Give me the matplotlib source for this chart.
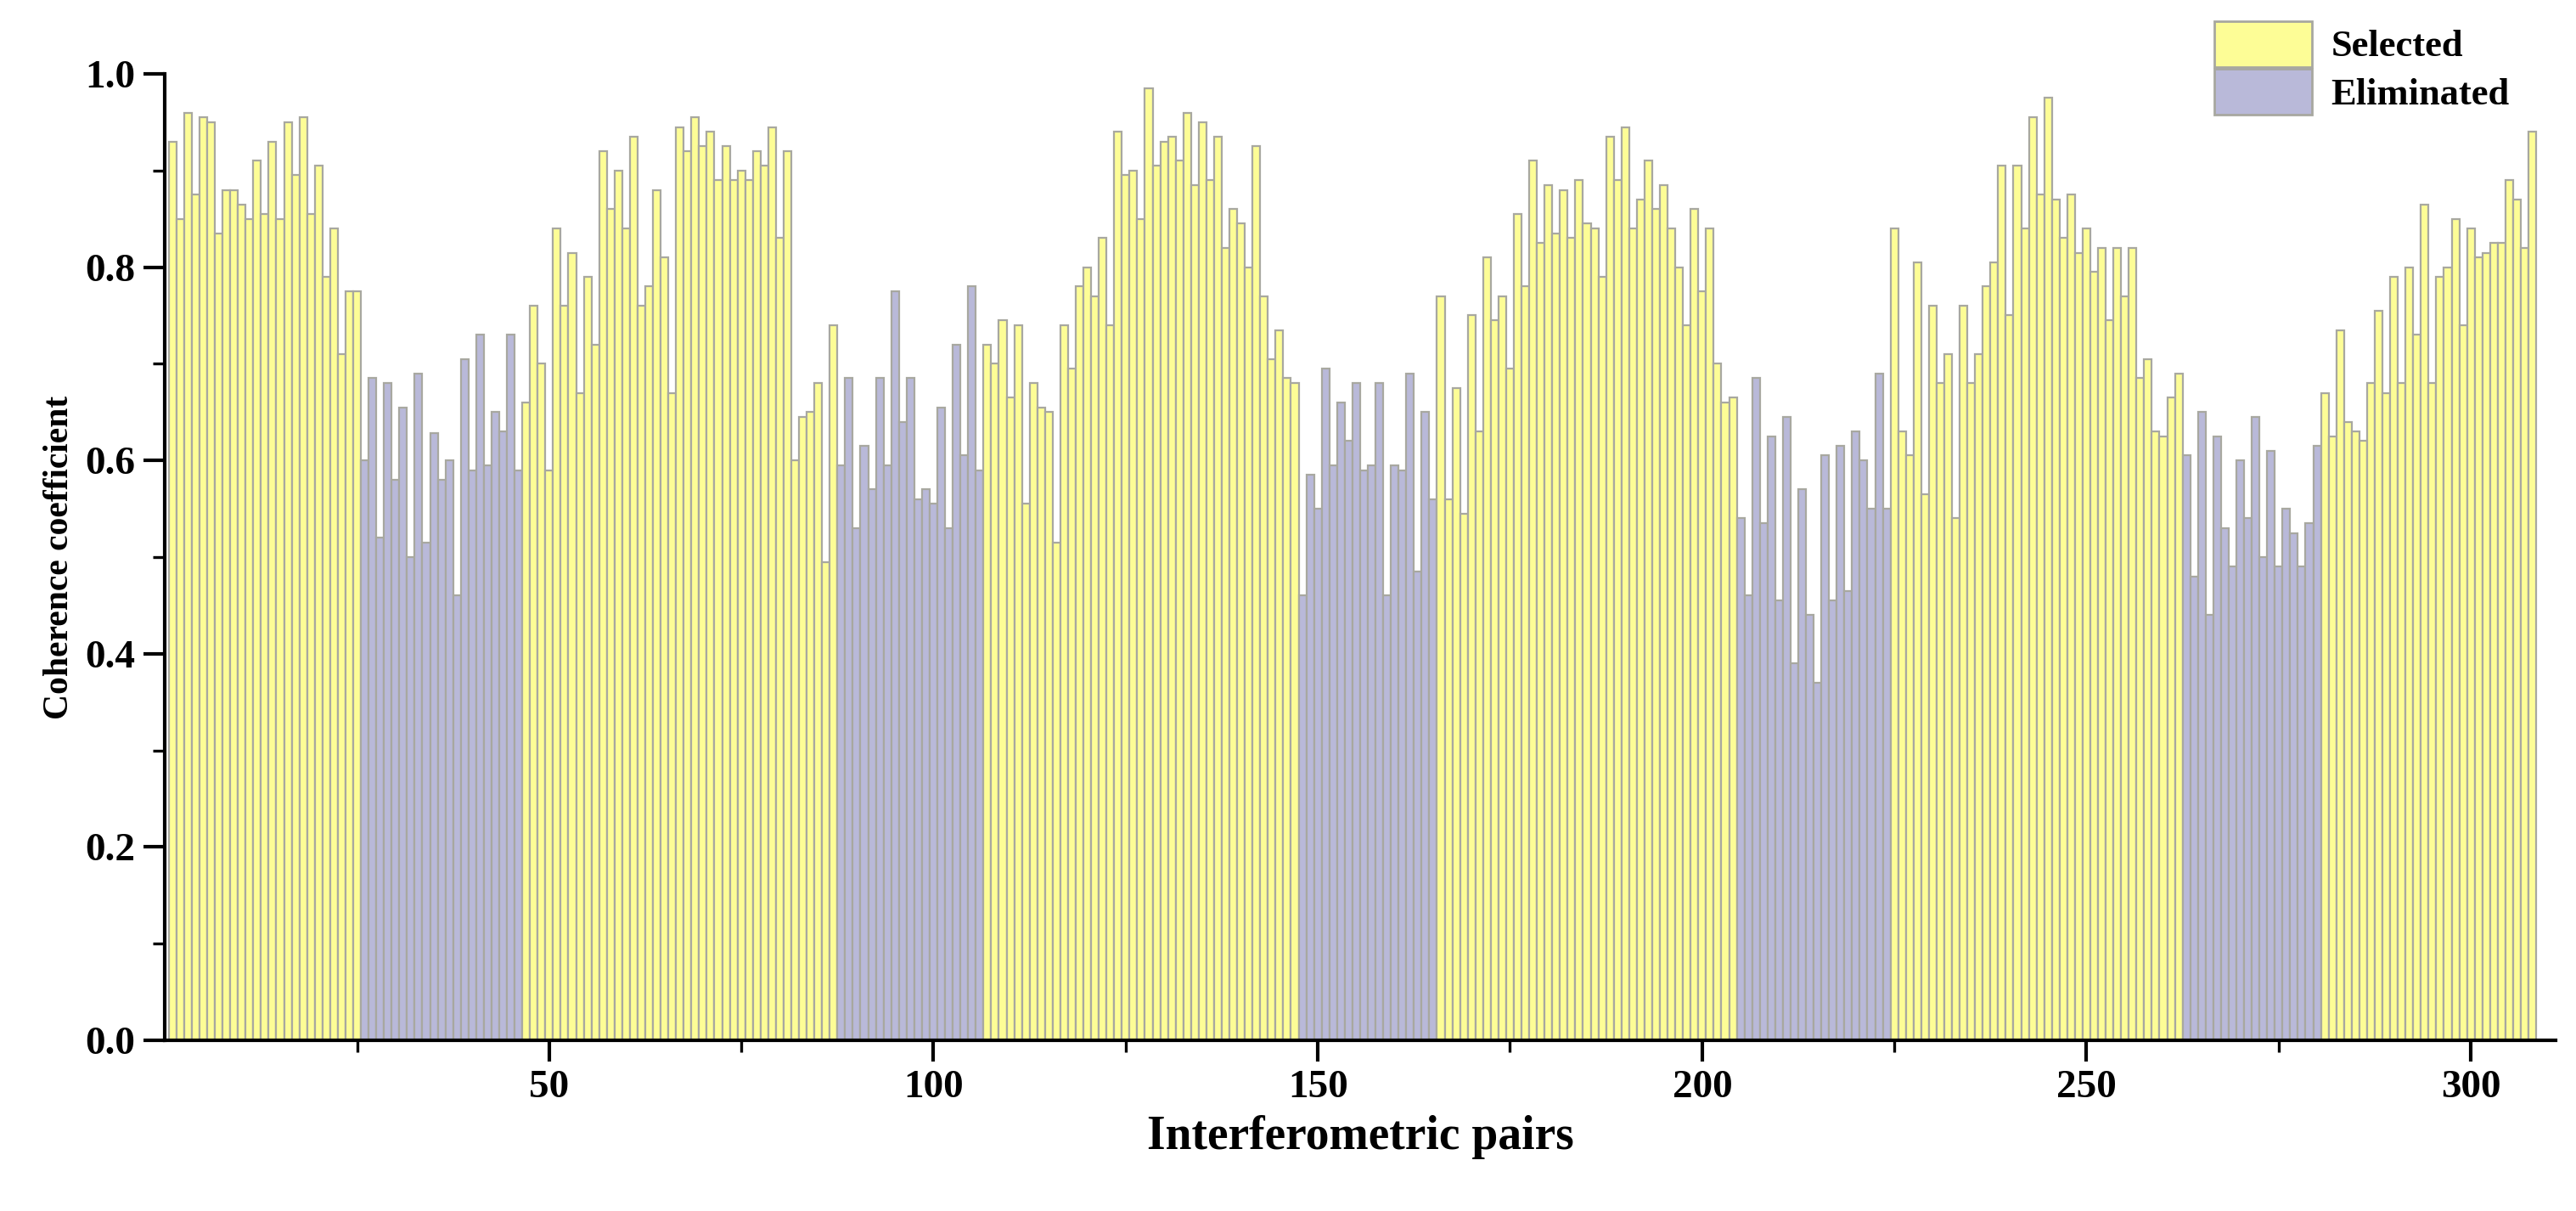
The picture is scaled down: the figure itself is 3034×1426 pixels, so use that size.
import matplotlib.pyplot as plt
import numpy as np
from matplotlib.patches import Patch

plt.rcParams['font.family'] = ['Liberation Serif', 'DejaVu Serif']

# coherence per section (selected / eliminated alternate)
sel1 = [0.93, 0.85, 0.96, 0.875, 0.955, 0.95, 0.835, 0.88, 0.88, 0.865, 0.85, 0.91, 0.855,
        0.93, 0.85, 0.95, 0.895, 0.955, 0.855, 0.905, 0.79, 0.84, 0.71, 0.775, 0.775]
eli1 = [0.6, 0.685, 0.52, 0.68, 0.58, 0.655, 0.50, 0.69, 0.515, 0.628, 0.58, 0.60, 0.46,
        0.705, 0.59, 0.73, 0.595, 0.65, 0.63, 0.73, 0.59]
sel2 = [0.66, 0.76, 0.70, 0.59, 0.84, 0.76, 0.815, 0.67, 0.79, 0.72, 0.92, 0.86, 0.9, 0.84,
        0.935, 0.76, 0.78, 0.88, 0.81, 0.67, 0.945, 0.92, 0.955, 0.925, 0.94, 0.89, 0.925,
        0.89, 0.90, 0.89, 0.92, 0.905, 0.945, 0.83, 0.92, 0.60, 0.645, 0.65, 0.68, 0.495, 0.74]
eli2 = [0.595, 0.685, 0.53, 0.615, 0.57, 0.685, 0.595, 0.775, 0.64, 0.685, 0.56, 0.57,
        0.555, 0.655, 0.53, 0.72, 0.605, 0.78, 0.59]
sel3 = [0.72, 0.70, 0.745, 0.665, 0.74, 0.555, 0.68, 0.655, 0.65, 0.515, 0.74, 0.695, 0.78,
        0.80, 0.77, 0.83, 0.74, 0.94, 0.895, 0.90, 0.85, 0.985, 0.905, 0.93, 0.935, 0.91,
        0.96, 0.885, 0.95, 0.89, 0.935, 0.82, 0.86, 0.845, 0.80, 0.925, 0.77, 0.705, 0.735,
        0.685, 0.68]
eli3 = [0.46, 0.585, 0.55, 0.695, 0.595, 0.66, 0.62, 0.68, 0.59, 0.595, 0.68, 0.46, 0.595,
        0.59, 0.69, 0.485, 0.65, 0.56]
sel4 = [0.77, 0.56, 0.675, 0.545, 0.75, 0.63, 0.81, 0.745, 0.77, 0.695, 0.855, 0.78, 0.91,
        0.825, 0.885, 0.835, 0.88, 0.83, 0.89, 0.845, 0.84, 0.79, 0.935, 0.89, 0.945, 0.84,
        0.87, 0.91, 0.86, 0.885, 0.84, 0.80, 0.74, 0.86, 0.775, 0.84, 0.70, 0.66, 0.665]
eli4 = [0.54, 0.46, 0.685, 0.535, 0.625, 0.455, 0.645, 0.39, 0.57, 0.44, 0.37, 0.605, 0.455,
        0.615, 0.465, 0.63, 0.60, 0.55, 0.69, 0.55]
sel5 = [0.84, 0.63, 0.605, 0.805, 0.565, 0.76, 0.68, 0.71, 0.54, 0.76, 0.68, 0.71, 0.78,
        0.805, 0.905, 0.75, 0.905, 0.84, 0.955, 0.875, 0.975, 0.87, 0.83, 0.875, 0.815, 0.84,
        0.795, 0.82, 0.745, 0.82, 0.77, 0.82, 0.685, 0.705, 0.63, 0.625, 0.665, 0.69]
eli5 = [0.605, 0.48, 0.65, 0.44, 0.625, 0.53, 0.49, 0.60, 0.54, 0.645, 0.50, 0.61, 0.49,
        0.55, 0.525, 0.49, 0.535, 0.615]
sel6 = [0.67, 0.625, 0.735, 0.64, 0.63, 0.62, 0.68, 0.755, 0.67, 0.79, 0.68, 0.80, 0.73,
        0.865, 0.68, 0.79, 0.80, 0.85, 0.74, 0.84, 0.81, 0.815, 0.825, 0.825, 0.89, 0.87,
        0.82, 0.94]

sections = [(sel1, True), (eli1, False), (sel2, True), (eli2, False), (sel3, True),
            (eli3, False), (sel4, True), (eli4, False), (sel5, True), (eli5, False),
            (sel6, True)]

fig = plt.figure(figsize=(15.17, 7.13), dpi=200)
ax = fig.add_axes([0.064, 0.141, 0.928, 0.798])

yellow = '#fdfd96'
purple = '#b9b9d9'
start = 1
for vals, sel in sections:
    x = np.arange(start, start + len(vals))
    ax.bar(x, vals, width=1.0, color=yellow if sel else purple,
           edgecolor='#a8a8a0', linewidth=0.8)
    start += len(vals)

ax.set_xlim(0, 311)
ax.set_ylim(0, 1.0)
ax.set_xticks([50, 100, 150, 200, 250, 300])
ax.set_xticks(np.arange(25, 311, 25), minor=True)
ax.set_yticks(np.arange(0, 1.01, 0.2))
ax.set_yticks(np.arange(0.1, 1.0, 0.2), minor=True)
ax.yaxis.set_major_formatter(plt.FormatStrFormatter('%.1f'))
for s in ['top', 'right']:
    ax.spines[s].set_visible(False)
for s in ['left', 'bottom']:
    ax.spines[s].set_linewidth(1.5)
ax.tick_params(which='major', direction='out', length=9, width=1.5, labelsize=17)
ax.tick_params(which='minor', direction='out', length=5, width=1.2)
for lab in ax.get_xticklabels() + ax.get_yticklabels():
    lab.set_fontweight('bold')
ax.set_xlabel('Interferometric pairs', fontsize=20, fontweight='bold')
ax.set_ylabel('Coherence coefficient', fontsize=15, fontweight='bold')

handles = [Patch(facecolor=yellow, edgecolor='#a8a8a0', label='Selected'),
           Patch(facecolor=purple, edgecolor='#a8a8a0', label='Eliminated')]
leg = ax.legend(handles=handles, loc='upper right', bbox_to_anchor=(0.995, 1.09),
                frameon=False, prop={'weight': 'bold', 'size': 16},
                handlelength=2.6, handleheight=1.5, labelspacing=0.05, handletextpad=0.5)

fig.savefig('out.png')
